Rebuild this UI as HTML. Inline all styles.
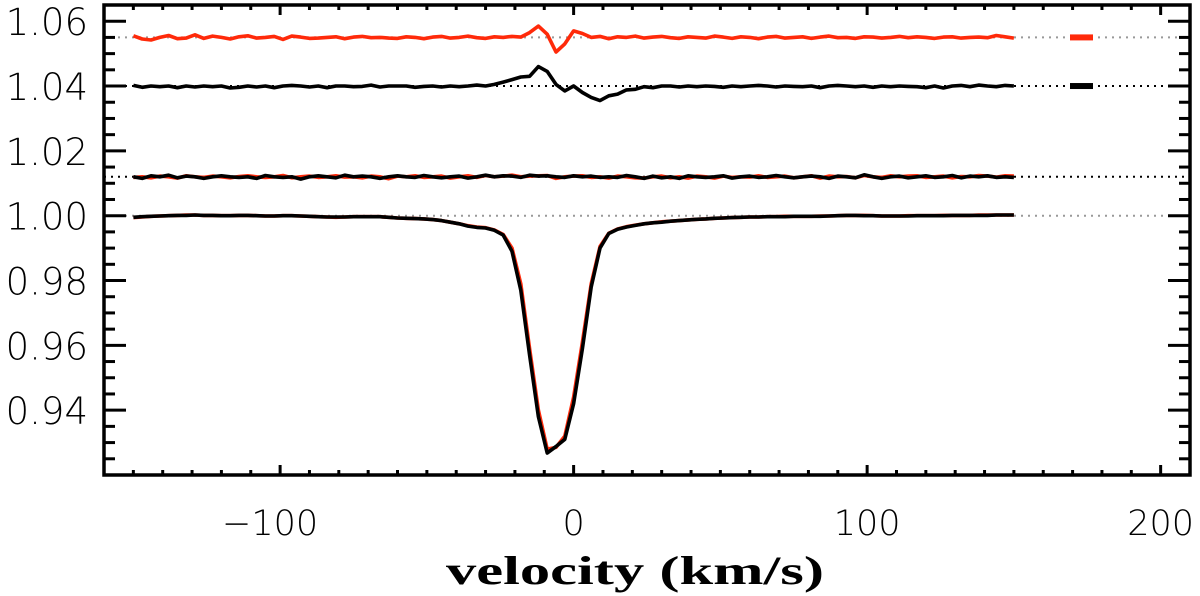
<!DOCTYPE html>
<html><head><meta charset="utf-8"><style>
html,body{margin:0;padding:0;background:#fff;}
svg{display:block;}
</style></head><body>
<svg id="chart" width="1200" height="596" viewBox="0 0 1200 596" xmlns="http://www.w3.org/2000/svg"></svg>
<script>
// ---- data ----
const velocity = Array.from({length:101},(_,i)=>-150+3*i);
const xTicks = [-100,0,100,200];
const xTickLabels = ["\u2212100","0","100","200"];
const yTicks = [0.94,0.96,0.98,1.00,1.02,1.04,1.06];
const yTickLabels = ["0.94","0.96","0.98","1.00","1.02","1.04","1.06"];
const offsetTopRed = 1.055, offsetTopBlack = 1.040, offsetMid = 1.012, continuum = 1.000;
// residuals in units of 1e-4
const residTopRed = [5,-5,-8,0,6,-4,-2,8,-3,4,0,-5,2,5,-2,0,3,-6,4,1,-3,-2,0,2,-4,1,3,-1,0,-2,-3,2,0,-4,1,3,-2,0,4,-1,
 -3,2,0,3,1,15,35,10,-45,-20,20,12,0,3,-4,2,0,4,-2,1,
 3,-1,-3,2,0,-2,4,1,-3,2,0,-4,1,3,-2,0,2,-3,1,4,-1,0,-3,2,1,-2,0,3,-1,2,0,-3,1,2,-2,0,1,-1,6,2,-2];
const residTopBlack = [2,-4,0,-2,0,-5,0,-3,0,-2,0,-6,-4,0,-3,0,-5,0,2,0,-3,0,-5,0,0,-2,-1,3,-3,0,0,0,-4,-1,0,-3,0,-2,0,3,
 0,5,12,20,28,30,60,45,5,-15,0,-20,-35,-45,-30,-25,-12,-10,-2,-5,
 0,0,-3,0,-2,0,-1,-4,0,-2,0,2,0,-3,0,-1,-2,0,-5,0,2,0,-2,0,-4,0,-2,0,-1,-2,-5,0,-6,0,2,-2,3,0,-2,2,0];
const residMidBlack = [0,-5,3,0,5,-3,2,0,-5,0,3,0,-2,0,-5,4,0,-2,0,-7,0,3,0,-3,5,0,2,0,-5,0,3,0,-2,4,0,-3,0,2,-4,0,5,0,3,2,-2,5,2,3,0,-2,3,
 0,2,-2,0,-2,4,0,-5,2,-3,0,-5,3,0,-2,0,3,-4,0,2,-2,0,4,0,-3,0,2,0,-5,2,0,-3,6,0,-5,0,2,-3,0,3,-2,0,4,-3,2,0,3,-2,0,-2];
const residMidRed = [-2,0,-3,2,0,-4,3,0,-2,2,0,-3,1,3,0,-2,0,4,-3,0,2,-2,0,3,-1,0,-3,2,0,-6,2,0,3,-2,0,2,-4,0,3,-2,4,0,2,5,0,2,3,4,-5,0,2,
 3,-2,0,-4,2,0,-3,-4,0,2,-3,0,-4,2,0,-4,2,-2,0,-1,3,-2,0,2,-3,0,3,-4,2,0,1,-3,4,0,-2,3,0,2,3,-2,0,2,-3,1,0,4,2,-1,3,2];
const profileBlack = [0.9995,0.9997,0.9998,0.9999,1.0000,1.0001,1.0001,1.0002,1.0001,1.0001,1.0000,1.0000,1.0001,1.0001,1.0000,0.9999,0.9999,1.0000,1.0000,0.9999,
 0.9998,0.9997,0.9996,0.9996,0.9996,0.9997,0.9997,0.9997,0.9997,0.9995,
 0.9993,0.9992,0.9991,0.9990,0.9988,0.9985,0.9980,0.9975,0.9968,0.9964,0.9962,0.9955,0.9940,0.989,0.977,0.957,0.938,
 0.9268,0.9288,0.931,0.942,0.959,0.978,
 0.990,0.9945,0.9958,0.9965,0.9970,0.9975,0.9978,0.9980,0.9983,0.9985,0.9987,0.9989,0.9990,0.9992,0.9993,0.9994,0.9995,
 0.9996,0.9996,0.9997,0.9997,0.9997,0.9998,0.9998,0.9998,0.9998,0.9999,1.0000,1.0001,1.0001,1.0000,1.0000,0.9999,
 0.9999,0.9999,0.9999,1.0000,1.0000,1.0000,1.0000,1.0001,1.0001,1.0001,1.0001,1.0001,1.0002,1.0002,1.0002];
const profileRed = [0.9994,0.9996,0.9998,0.9999,1.0000,1.0001,1.0002,1.0002,1.0001,1.0001,1.0000,1.0000,1.0001,1.0001,1.0000,0.9999,0.9999,1.0000,1.0000,0.9999,
 0.9998,0.9997,0.9996,0.9995,0.9996,0.9997,0.9997,0.9997,0.9997,0.9995,
 0.9993,0.9992,0.9991,0.9990,0.9988,0.9985,0.9980,0.9975,0.9969,0.9965,0.9963,0.9956,0.9942,0.990,0.979,0.959,0.940,
 0.928,0.9285,0.932,0.944,0.961,0.979,
 0.9905,0.9946,0.9959,0.9966,0.9971,0.9975,0.9978,0.9981,0.9983,0.9985,0.9987,0.9989,0.9990,0.9992,0.9993,0.9994,0.9995,
 0.9996,0.9996,0.9997,0.9997,0.9998,0.9998,0.9998,0.9998,0.9999,0.9999,1.0000,1.0001,1.0001,1.0001,1.0000,0.9999,
 0.9999,0.9999,1.0000,1.0000,1.0000,1.0000,1.0001,1.0001,1.0001,1.0001,1.0002,1.0002,1.0002,1.0002,1.0002];

// ---- layout ----
const L=104,R=1190,T=5,B=475;
const xmin=-160,xmax=210,ymin=0.92,ymax=1.065;
const sx=v=>L+(v-xmin)/(xmax-xmin)*(R-L);
const sy=v=>B-(v-ymin)/(ymax-ymin)*(B-T);
const svg=document.getElementById('chart');
const NS='http://www.w3.org/2000/svg';
function mk(tag,attrs,parent){const e=document.createElementNS(NS,tag);for(const k in attrs)e.setAttribute(k,attrs[k]);(parent||svg).appendChild(e);return e;}

// reference dotted lines
const refs=[[offsetTopRed,'#999','ref-line-top-red'],[offsetTopBlack,'#000','ref-line-top-black'],[offsetMid,'#000','ref-line-mid'],[continuum,'#999','ref-line-continuum']];
refs.forEach(r=>{
  const ln=mk('line',{x1:L,x2:R,y1:sy(r[0]),y2:sy(r[0]),stroke:r[1],'stroke-width':2,'stroke-dasharray':'2,5'});
  
  
});

function series(vals,color,name){
  const d=vals.map((v,i)=>(i?'L':'M')+sx(velocity[i]).toFixed(1)+','+sy(v).toFixed(1)).join('');
  const p=mk('path',{d:d,fill:'none',stroke:color,'stroke-width':3.6,'stroke-linejoin':'round'});
  
  
}
const RED='#ff2a0a';
series(profileRed,RED,'profile-red');
series(profileBlack,'#000','profile-black');
series(residMidRed.map(v=>offsetMid+v*1e-4),RED,'residual-mid-red');
series(residMidBlack.map(v=>offsetMid+v*1e-4),'#000','residual-mid-black');
series(residTopRed.map(v=>offsetTopRed+v*1e-4),RED,'residual-top-red');
series(residTopBlack.map(v=>offsetTopBlack+v*1e-4),'#000','residual-top-black');

// legend markers
const lm1=mk('rect',{x:1070,y:sy(offsetTopRed)-3,width:23,height:6,fill:RED});


const lm2=mk('rect',{x:1070,y:sy(offsetTopBlack)-3,width:23,height:6,fill:'#000'});



// axes frame
const fr=mk('rect',{x:L,y:T,width:R-L,height:B-T,fill:'none',stroke:'#000','stroke-width':3.5});



// x ticks
for(let v=-150;v<=200;v+=10){
  const maj=v%100===0, len=maj?10:5, x=sx(v);
  mk('line',{x1:x,x2:x,y1:B,y2:B-len,stroke:'#000','stroke-width':3});
  mk('line',{x1:x,x2:x,y1:T,y2:T+len,stroke:'#000','stroke-width':3});
}
xTicks.forEach((v,i)=>{
  const t=mk('text',{x:sx(v)-(v<0?10:0),y:535,'text-anchor':'middle','font-family':'DejaVu Sans, Liberation Sans, sans-serif','font-size':35,'font-weight':200,fill:'#000'});
  t.textContent=xTickLabels[i];
  
  
});
// y ticks
for(let k=0;k<=29;k++){
  const v=0.92+k*0.005; if(v>ymax+1e-9)break;
  const maj=Math.abs(Math.round(v*100)-v*100)<1e-6 && Math.round(v*100)%2===0;
  const len=maj?22:11, y=sy(v);
  mk('line',{x1:L,x2:L+len,y1:y,y2:y,stroke:'#000','stroke-width':3});
  mk('line',{x1:R,x2:R-len,y1:y,y2:y,stroke:'#000','stroke-width':3});
}
yTicks.forEach((v,i)=>{
  const t=mk('text',{x:88,y:sy(v)+14,'text-anchor':'end','font-family':'DejaVu Sans, Liberation Sans, sans-serif','font-size':37,'font-weight':200,fill:'#000'});
  t.textContent=yTickLabels[i];
  
  
});
const xt=mk('text',{x:446,y:584,'font-family':'Liberation Serif, serif','font-size':40,'font-weight':'bold',fill:'#000',textLength:378,lengthAdjust:'spacingAndGlyphs'});
xt.textContent='velocity (km/s)';


</script>
</body></html>
